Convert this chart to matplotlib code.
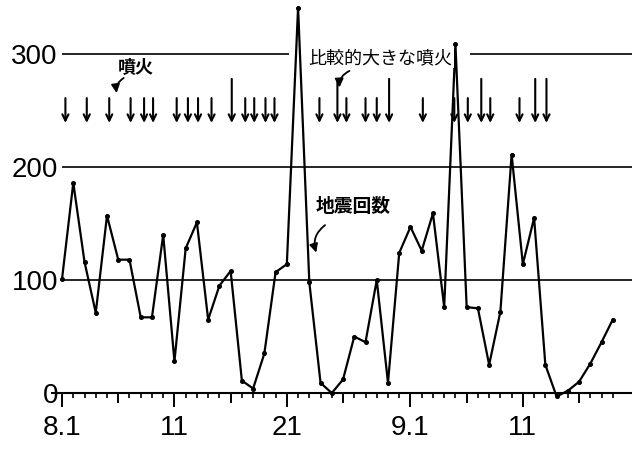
import matplotlib
matplotlib.use('Agg')
import matplotlib.pyplot as plt
import numpy as np

# day number counted from Aug 1 (day 0); Sep 1 is day 31
days = list(range(50))
quakes = [101, 186, 116, 71, 157, 118, 118, 67, 67, 140,
          28, 128, 151, 65, 95, 108, 11, 4, 35, 107,
          114, 341, 98, 9, 0, 12, 50, 45, 100, 9,
          124, 147, 126, 159, 76, 309, 76, 75, 25, 72,
          211, 114, 155, 25, -3, 2, 10, 26, 45, 65]

# eruptions (arrows)
eruptions = [0.3, 2.2, 4.2, 6.1, 7.3, 8.1, 10.2, 11.2, 12.1, 13.3,
             16.3, 17.1, 18.1, 18.9, 22.9, 25.3, 27.0, 28.0,
             32.1, 34.9, 36.1, 38.1, 40.7]
big_eruptions = [15.1, 24.5, 29.1, 37.3, 42.1, 43.1]

tick_days = [0, 5, 10, 15, 20, 25, 31, 36, 41, 46]
tick_labels = ['8.1', '', '11', '', '21', '', '9.1', '', '11', '']
ytick_vals = [0, 100, 200, 300]

cjk = ['Noto Sans CJK JP', 'DejaVu Sans']
num_font = ['Liberation Sans Narrow', 'Liberation Sans']

fig = plt.figure(figsize=(6.32, 4.5), dpi=100)
ax = fig.add_axes([0, 0, 1, 1])
ax.set_xlim(-5.52, 50.71)
ax.set_ylim(-50.4, 347.8)

# reference lines
ax.hlines([100, 200], 0, 50.71, color='black', lw=1.2)
ax.hlines(300, 0, 20.2, color='black', lw=1.2)
ax.hlines(300, 36.3, 50.71, color='black', lw=1.2)

# earthquake counts
ax.plot(days, quakes, color='black', lw=1.6, marker='o', ms=2.6)

# eruption arrows
for d in eruptions:
    ax.annotate('', xy=(d, 239), xytext=(d, 261),
                arrowprops=dict(arrowstyle='->,head_length=0.45,head_width=0.22',
                                color='black', lw=1.5, shrinkA=0, shrinkB=0))
for d in big_eruptions:
    ax.annotate('', xy=(d, 239), xytext=(d, 278),
                arrowprops=dict(arrowstyle='->,head_length=0.45,head_width=0.22',
                                color='black', lw=1.5, shrinkA=0, shrinkB=0))

# labels with curly pointers
ax.text(6.6, 288.5, '噴火', family=cjk, fontsize=13, weight='bold',
        ha='center', va='center')
ax.annotate('', xy=(4.9, 263), xytext=(5.7, 280),
            arrowprops=dict(arrowstyle='-|>,head_length=0.5,head_width=0.25',
                            color='black', lw=1.3, connectionstyle='arc3,rad=0.4'))
ax.text(28.3, 296.5, '比較的大きな噴火', family=cjk, fontsize=13,
        ha='center', va='center', bbox=dict(fc='white', ec='none', pad=1))
ax.annotate('', xy=(24.7, 268), xytext=(25.8, 286),
            arrowprops=dict(arrowstyle='-|>,head_length=0.5,head_width=0.25',
                            color='black', lw=1.3, connectionstyle='arc3,rad=0.4'))
ax.text(25.9, 165.5, '地震回数', family=cjk, fontsize=13.5, weight='bold',
        ha='center', va='center')
ax.annotate('', xy=(22.7, 122), xytext=(23.6, 150),
            arrowprops=dict(arrowstyle='-|>,head_length=0.5,head_width=0.25',
                            color='black', lw=1.3, connectionstyle='arc3,rad=0.4'))

# axes
for s in ['top', 'right']:
    ax.spines[s].set_visible(False)
ax.spines['left'].set_position(('data', 0))
ax.spines['left'].set_visible(False)
ax.spines['bottom'].set_position(('data', 0))
ax.spines['bottom'].set_bounds(-0.9, 50.71)
ax.spines['bottom'].set_linewidth(1.5)

ax.set_yticks(ytick_vals, [str(v) for v in ytick_vals])
ax.tick_params(axis='y', length=0, pad=3)
ax.set_xticks(tick_days, tick_labels)
ax.set_xticks(range(0, 50), minor=True)
ax.tick_params(axis='x', which='major', length=10, width=1.4, pad=6)
ax.tick_params(axis='x', which='minor', length=3.6, width=1.2)
for t, d in zip(ax.xaxis.get_major_ticks(), tick_days):
    if d in (5, 15, 25, 36, 46):
        t.tick1line.set_markersize(7)
for lab in ax.get_xticklabels() + ax.get_yticklabels():
    lab.set_family(num_font)
    lab.set_fontsize(20)

fig.savefig('out.png', dpi=100)
